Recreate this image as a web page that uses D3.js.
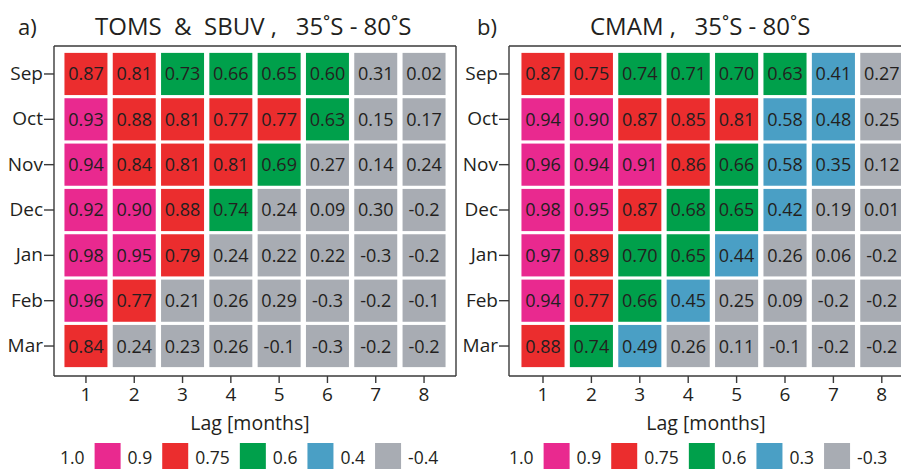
<!DOCTYPE html>
<html>
<head>
<meta charset="utf-8">
<script src="https://cdn.jsdelivr.net/npm/d3@7"></script>
<style>
  html, body { margin: 0; padding: 0; background: #fff; }
  svg { display: block; font-family: "Open Sans", "Noto Sans", sans-serif; }
</style>
</head>
<body>
<svg id="chart" width="901" height="469"></svg>
<script>
// ---- data ----
const months = ["Sep", "Oct", "Nov", "Dec", "Jan", "Feb", "Mar"];
const lags = [1, 2, 3, 4, 5, 6, 7, 8];

const tomsValues = [
  [0.87, 0.81, 0.73, 0.66, 0.65, 0.60, 0.31, 0.02],
  [0.93, 0.88, 0.81, 0.77, 0.77, 0.63, 0.15, 0.17],
  [0.94, 0.84, 0.81, 0.81, 0.69, 0.27, 0.14, 0.24],
  [0.92, 0.90, 0.88, 0.74, 0.24, 0.09, 0.30, -0.2],
  [0.98, 0.95, 0.79, 0.24, 0.22, 0.22, -0.3, -0.2],
  [0.96, 0.77, 0.21, 0.26, 0.29, -0.3, -0.2, -0.1],
  [0.84, 0.24, 0.23, 0.26, -0.1, -0.3, -0.2, -0.2]
];

const cmamValues = [
  [0.87, 0.75, 0.74, 0.71, 0.70, 0.63, 0.41, 0.27],
  [0.94, 0.90, 0.87, 0.85, 0.81, 0.58, 0.48, 0.25],
  [0.96, 0.94, 0.91, 0.86, 0.66, 0.58, 0.35, 0.12],
  [0.98, 0.95, 0.87, 0.68, 0.65, 0.42, 0.19, 0.01],
  [0.97, 0.89, 0.70, 0.65, 0.44, 0.26, 0.06, -0.2],
  [0.94, 0.77, 0.66, 0.45, 0.25, 0.09, -0.2, -0.2],
  [0.88, 0.74, 0.49, 0.26, 0.11, -0.1, -0.2, -0.2]
];

const binColors = ["#A8ACB3", "#4A9FC5", "#00A04B", "#EB2D2E", "#E9298F"]; // low -> high
const tomsThresholds = [0.4, 0.6, 0.75, 0.9];
const cmamThresholds = [0.3, 0.6, 0.75, 0.9];
const tomsLegendLabels = ["1.0", "0.9", "0.75", "0.6", "0.4", "-0.4"];
const cmamLegendLabels = ["1.0", "0.9", "0.75", "0.6", "0.3", "-0.3"];

const panels = [
  { tag: "a)", title: "TOMS  &  SBUV ,   35˚S - 80˚S", values: tomsValues, thresholds: tomsThresholds,
    legend: tomsLegendLabels, x0: 61.8, x1: 448.2, frame: [54, 456], closed: true,
    tagX: 18, titleX: 95, xLabelX: 250, legendX: 60 },
  { tag: "b)", title: "CMAM ,   35˚S - 80˚S", values: cmamValues, thresholds: cmamThresholds,
    legend: cmamLegendLabels, x0: 518.8, x1: 906, frame: [509, 905], closed: false,
    tagX: 477, titleX: 590, xLabelX: 706, legendX: 509 }
];

const svg = d3.select("#chart");
const yTop = 51.3, yBot = 368.7, frameTop = 46, frameBot = 376;
const label = v => v < 0 ? v.toFixed(1) : v.toFixed(2);

panels.forEach(p => {
  const g = svg.append("g");
  const x = d3.scaleBand().domain(lags).range([p.x0, p.x1]).paddingInner(0.11).paddingOuter(0.055);
  const y = d3.scaleBand().domain(months).range([yTop, yBot]).paddingInner(0.07).paddingOuter(0.035);
  const color = d3.scaleThreshold().domain(p.thresholds).range(binColors);

  const cells = [];
  months.forEach((m, i) => lags.forEach((l, j) => cells.push({ m, l, v: p.values[i][j] })));

  g.selectAll("rect.cell").data(cells).join("rect")
    .attr("class", "cell")
    .attr("x", d => x(d.l)).attr("y", d => y(d.m))
    .attr("width", x.bandwidth()).attr("height", y.bandwidth())
    .attr("fill", d => color(d.v));

  g.selectAll("text.val").data(cells).join("text")
    .attr("class", "val")
    .attr("x", d => x(d.l) + x.bandwidth() / 2)
    .attr("y", d => y(d.m) + y.bandwidth() / 2)
    .attr("dy", "0.36em")
    .attr("text-anchor", "middle")
    .attr("font-size", 18)
    .attr("fill", "#231f20")
    .text(d => label(d.v));

  // frame
  const [fl, fr] = p.frame;
  const frame = g.append("g").attr("stroke", "#3a3a3a").attr("stroke-width", 1.4).attr("fill", "none");
  frame.append("line").attr("x1", fl).attr("x2", fr).attr("y1", frameTop).attr("y2", frameTop);
  frame.append("line").attr("x1", fl).attr("x2", fr).attr("y1", frameBot).attr("y2", frameBot);
  frame.append("line").attr("x1", fl).attr("x2", fl).attr("y1", frameTop).attr("y2", frameBot);
  if (p.closed) frame.append("line").attr("x1", fr).attr("x2", fr).attr("y1", frameTop).attr("y2", frameBot);

  // axes
  const ya = g.append("g").attr("transform", `translate(${fl},0)`)
    .call(d3.axisLeft(y).tickSize(10).tickPadding(1));
  ya.select(".domain").remove();
  ya.selectAll("line").attr("stroke", "#3a3a3a").attr("stroke-width", 1.4);
  ya.selectAll("text").attr("font-size", 19).attr("fill", "#231f20")
    .attr("font-family", "'Open Sans', sans-serif");

  const xa = g.append("g").attr("transform", `translate(0,${frameBot})`)
    .call(d3.axisBottom(x).tickSize(7).tickPadding(5));
  xa.select(".domain").remove();
  xa.selectAll("line").attr("stroke", "#3a3a3a").attr("stroke-width", 1.4);
  xa.selectAll("text").attr("font-size", 19).attr("fill", "#231f20")
    .attr("font-family", "'Open Sans', sans-serif");

  g.append("text").attr("x", p.xLabelX).attr("y", 430).attr("text-anchor", "middle")
    .attr("font-size", 19.5).attr("fill", "#231f20").text("Lag [months]");

  // titles
  g.append("text").attr("x", p.tagX).attr("y", 35).attr("font-size", 22).attr("fill", "#231f20").text(p.tag);
  g.append("text").attr("x", p.titleX).attr("y", 35).attr("font-size", 24).attr("fill", "#231f20")
    .style("white-space", "pre").text(p.title);

  // legend
  const lg = g.append("g");
  let cx = p.legendX;
  const swatchColors = binColors.slice().reverse();
  p.legend.forEach((t, i) => {
    const tx = lg.append("text").attr("x", cx).attr("y", 464).attr("font-size", 17.5)
      .attr("fill", "#231f20").text(t);
    cx += tx.node().getComputedTextLength() + 10;
    if (i < swatchColors.length) {
      lg.append("rect").attr("x", cx).attr("y", 443).attr("width", 26).attr("height", 26)
        .attr("fill", swatchColors[i]);
      cx += 26 + 7;
    }
  });
});
</script>
</body>
</html>
